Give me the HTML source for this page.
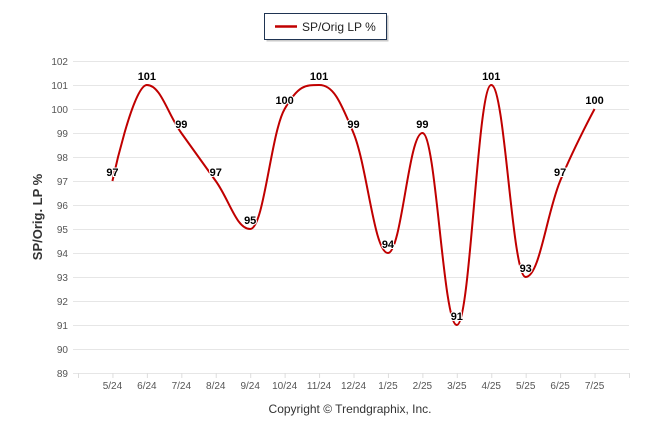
<!DOCTYPE html>
<html><head><meta charset="utf-8"><style>
body{margin:0;background:#fff;width:646px;height:434px;overflow:hidden;font-family:"Liberation Sans",sans-serif}
</style></head><body>
<svg width="646" height="434" viewBox="0 0 646 434">
<rect width="646" height="434" fill="#fff"/>
<g>
<rect x="266.5" y="15.5" width="122" height="26" fill="#666" opacity="0.35"/>
<rect x="264.5" y="13.5" width="122" height="26" fill="#fff" stroke="#1f3452" stroke-width="1"/>
<line x1="275" y1="26.5" x2="297" y2="26.5" stroke="#c00000" stroke-width="2.5"/>
<text x="302" y="31" font-size="12" fill="#222">SP/Orig LP %</text>
</g>
<g id="grid"></g>
<g id="yl" font-size="10" fill="#555" text-anchor="end"></g>
<g id="xl" font-size="10" fill="#555" text-anchor="middle"></g>
<text transform="translate(42,217) rotate(-90)" text-anchor="middle" font-size="13" font-weight="bold" fill="#333">SP/Orig. LP %</text>
<path id="line" fill="none" stroke="#c00000" stroke-width="2"/>
<g id="lbl" font-size="11" font-weight="bold" text-anchor="middle" fill="#000"></g>
<text x="350" y="413" text-anchor="middle" font-size="12" fill="#333">Copyright © Trendgraphix, Inc.</text>
</svg>
<script>
const categories=["5/24","6/24","7/24","8/24","9/24","10/24","11/24","12/24","1/25","2/25","3/25","4/25","5/25","6/25","7/25"];
const values=[97,101,99,97,95,100,101,99,94,99,91,101,93,97,100];
const yTicks=[89,90,91,92,93,94,95,96,97,98,99,100,101,102];
{
const NS="http://www.w3.org/2000/svg";
const yMin=89,yMax=102,plotTop=61,plotBot=373,plotLeft=73,plotRight=629;
const x0=78,x1=629,slots=categories.length+1;
function X(i){return x0+(x1-x0)*(i+1)/slots;}
function Y(v){return plotBot-(v-yMin)/(yMax-yMin)*(plotBot-plotTop);}
function mk(t,a,p){const e=document.createElementNS(NS,t);for(const k in a)e.setAttribute(k,a[k]);p.appendChild(e);return e;}
const grid=document.getElementById('grid'),yl=document.getElementById('yl'),xl=document.getElementById('xl'),lbl=document.getElementById('lbl');
yTicks.forEach(v=>{
 const g=mk('line',{x1:plotLeft,x2:plotRight,y1:Y(v)+0.5,y2:Y(v)+0.5,stroke:'#e6e6e6','stroke-width':1},grid);
 
 
 const t=mk('text',{x:68,y:Y(v)+4},yl);t.textContent=v;
 
 
});
for(let i=0;i<=slots;i++){
 const tx=x0+(x1-x0)*i/slots;
 const tk=mk('line',{x1:tx+0.5,x2:tx+0.5,y1:373,y2:378,stroke:'#ddd'},grid);
 
 
}
categories.forEach((c,i)=>{
 const t=mk('text',{x:X(i),y:389},xl);t.textContent=c;
 
 
});
const pts=values.map((v,i)=>({x:X(i),y:Y(v)}));
function cont(i){
 const p=pts[i],l=pts[i-1],n=pts[i+1];
 if(!l||!n)return null;
 const s=1.5,d=2.5;
 let lx=(s*p.x+l.x)/d,ly=(s*p.y+l.y)/d,rx=(s*p.x+n.x)/d,ry=(s*p.y+n.y)/d;
 const c=((ry-ly)*(rx-p.x))/(rx-lx)+p.y-ry;ly+=c;ry+=c;
 if(ly>l.y&&ly>p.y){ly=Math.max(l.y,p.y);ry=2*p.y-ly;}else if(ly<l.y&&ly<p.y){ly=Math.min(l.y,p.y);ry=2*p.y-ly;}
 if(ry>n.y&&ry>p.y){ry=Math.max(n.y,p.y);ly=2*p.y-ry;}else if(ry<n.y&&ry<p.y){ry=Math.min(n.y,p.y);ly=2*p.y-ry;}
 return {lx,ly,rx,ry};
}
const cs=pts.map((p,i)=>cont(i));
let d='M'+pts[0].x+' '+pts[0].y;
for(let i=1;i<pts.length;i++){
 const pc=cs[i-1],cc=cs[i],p=pts[i],q=pts[i-1];
 d+=' C'+(pc?pc.rx:q.x)+' '+(pc?pc.ry:q.y)+' '+(cc?cc.lx:p.x)+' '+(cc?cc.ly:p.y)+' '+p.x+' '+p.y;
}
document.getElementById('line').setAttribute('d',d);
values.forEach((v,i)=>{
 const t=mk('text',{x:X(i),y:Y(v)-5,stroke:'#fff','stroke-width':2,'paint-order':'stroke'},lbl);t.textContent=v;
 
 
});
}
</script>
</body></html>
